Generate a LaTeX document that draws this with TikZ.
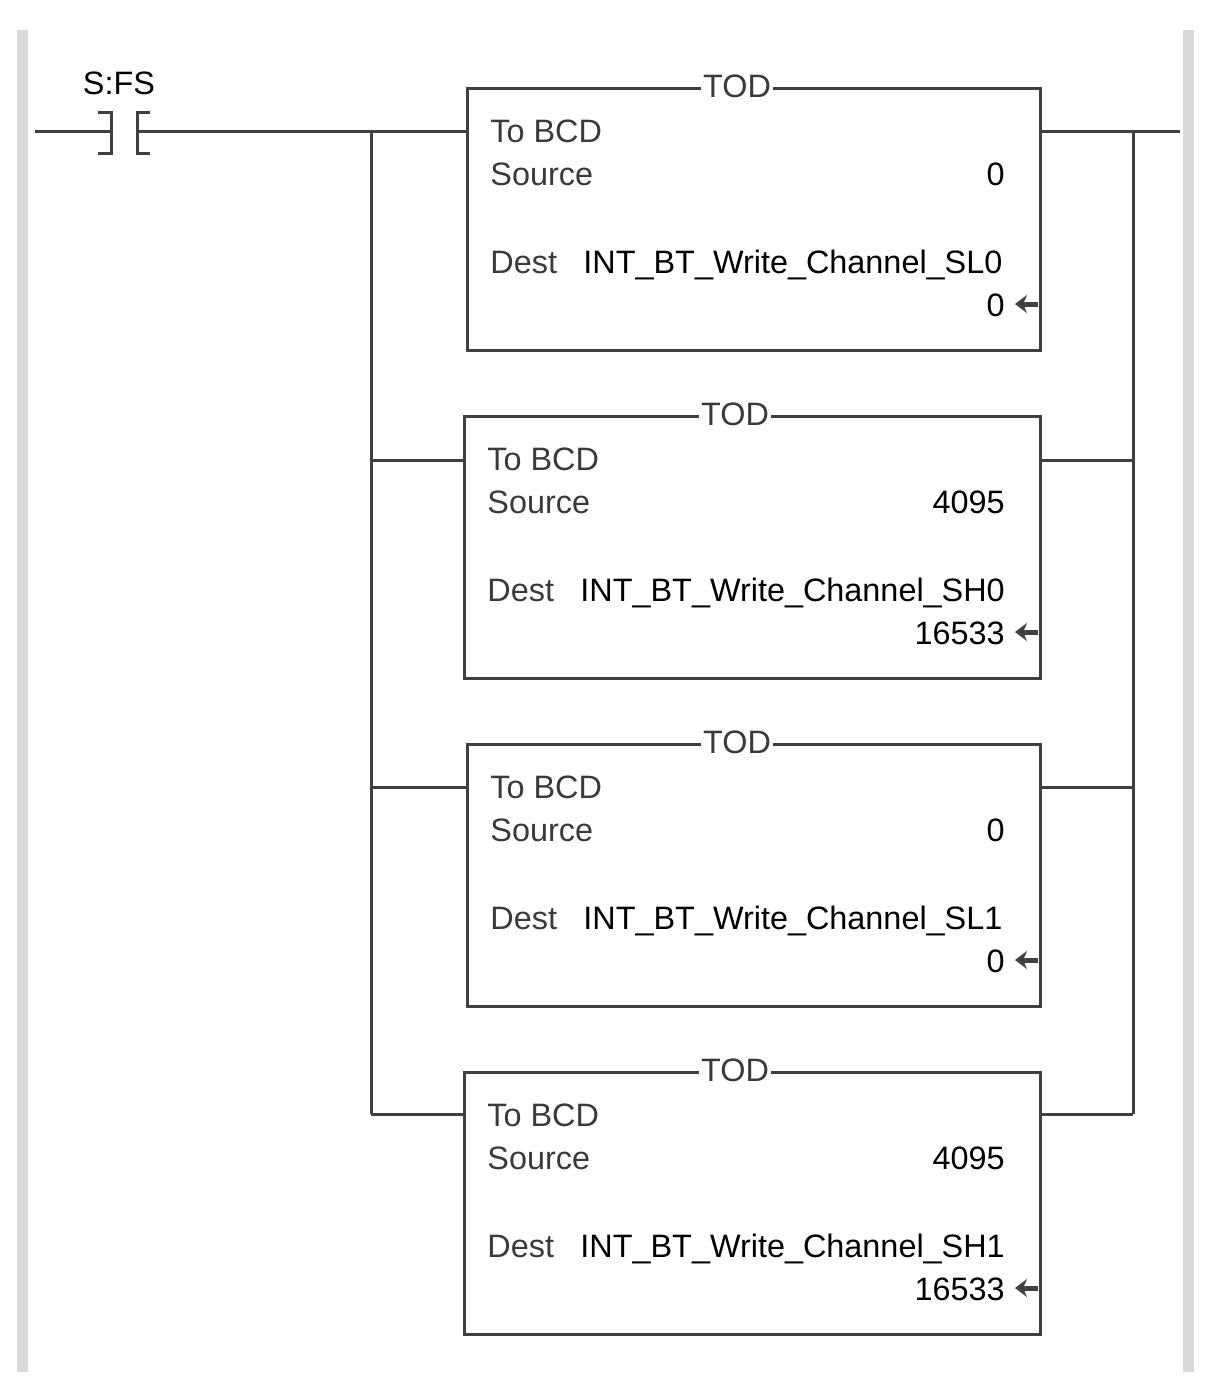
\documentclass[tikz,border=0pt]{standalone}
\usepackage{fontspec}
\setmainfont{Liberation Sans}
\usetikzlibrary{arrows.meta}
\definecolor{wirec}{HTML}{404040}
\definecolor{railc}{HTML}{D9D9D9}
\definecolor{labelc}{HTML}{3A3A3A}

\begin{document}
\begin{tikzpicture}[x=0.5pt,y=-0.5pt,
  wire/.style={draw=wirec,line width=1.5pt},
  rail/.style={draw=railc,line width=5.5pt},
  lbl/.style={anchor=base west,inner sep=0pt,text=labelc,font=\fontsize{16.2pt}{19pt}\selectfont},
  val/.style={anchor=base east,inner sep=0pt,text=black,font=\fontsize{16.2pt}{19pt}\selectfont},
  ttl/.style={anchor=base,fill=white,inner xsep=1pt,inner ysep=0pt,text=labelc,font=\fontsize{16.2pt}{19pt}\selectfont},
  ptr/.style={draw=wirec,line width=2.5pt,-{Stealth[length=6pt,width=9pt]},shorten >=5pt}]

\useasboundingbox (0,0) rectangle (1231,1383);

\coordinate (LT) at (22,30);
\coordinate (LB) at (22,1372);
\coordinate (RT) at (1188,30);
\coordinate (RB) at (1188,1372);
\draw[rail] (LT) -- (LB);
\draw[rail] (RT) -- (RB);

\coordinate (in) at (35,131);
\coordinate (ka) at (111,131);
\coordinate (kb) at (137,131);
\coordinate (out) at (1180,131);
\coordinate (L1) at (371,131);
\coordinate (L2) at (371,460);
\coordinate (L3) at (371,787);
\coordinate (L4) at (371,1114);
\coordinate (R1) at (1133,131);
\coordinate (R2) at (1133,460);
\coordinate (R3) at (1133,787);
\coordinate (R4) at (1133,1114);

\draw[wire] (98,112) -- (ka |- 0,112) -- (ka |- 0,153) -- (98,153);
\draw[wire] (150,112) -- (kb |- 0,112) -- (kb |- 0,153) -- (150,153);
\node[val,anchor=base] (sfs) at (119,94) {S:FS};
\draw[wire] (in) -- (ka);

\coordinate (B1) at (467,88);
\coordinate (B2) at (464,416);
\coordinate (B3) at (467,744);
\coordinate (B4) at (464,1072);
\coordinate (E1) at (1040,350);
\coordinate (E2) at (1040,678);
\coordinate (E3) at (1040,1006);
\coordinate (E4) at (1040,1334);

\draw[wire] (B1) rectangle (E1);
\draw[wire] (B2) rectangle (E2);
\draw[wire] (B3) rectangle (E3);
\draw[wire] (B4) rectangle (E4);

\draw[wire] (kb) -- (B1 |- L1);
\draw[wire] (L1) -- (L4);
\draw[wire] (L2) -- (B2 |- L2);
\draw[wire] (L3) -- (B3 |- L3);
\draw[wire] (L4) -- (B4 |- L4);
\draw[wire] (E1 |- R1) -- (out);
\draw[wire] (R1) -- (R4);
\draw[wire] (E2 |- R2) -- (R2);
\draw[wire] (E3 |- R3) -- (R3);
\draw[wire] (E4 |- R4) -- (R4);

\node[ttl] (t1) at (737,97) {TOD};
\node[lbl] (c1) at (490,142) {To BCD};
\node[lbl] (s1) at (490,185) {Source};
\node[val] (sv1) at (1005,185) {0};
\node[lbl] (d1) at (490,273) {Dest};
\node[val,anchor=base west] (n1) at (583,273) {INT\_BT\_Write\_Channel\_SL0};
\node[val] (v1) at (1005,316) {0};
\coordinate (a1) at (1038,304);
\draw[ptr] (a1) -- (v1.east |- a1);

\node[ttl] (t2) at (735,425) {TOD};
\node[lbl] (c2) at (487,470) {To BCD};
\node[lbl] (s2) at (487,513) {Source};
\node[val] (sv2) at (1005,513) {4095};
\node[lbl] (d2) at (487,601) {Dest};
\node[val,anchor=base west] (n2) at (580,601) {INT\_BT\_Write\_Channel\_SH0};
\node[val] (v2) at (1005,644) {16533};
\coordinate (a2) at (1038,632);
\draw[ptr] (a2) -- (v2.east |- a2);

\node[ttl] (t3) at (737,753) {TOD};
\node[lbl] (c3) at (490,798) {To BCD};
\node[lbl] (s3) at (490,841) {Source};
\node[val] (sv3) at (1005,841) {0};
\node[lbl] (d3) at (490,929) {Dest};
\node[val,anchor=base west] (n3) at (583,929) {INT\_BT\_Write\_Channel\_SL1};
\node[val] (v3) at (1005,972) {0};
\coordinate (a3) at (1038,960);
\draw[ptr] (a3) -- (v3.east |- a3);

\node[ttl] (t4) at (735,1081) {TOD};
\node[lbl] (c4) at (487,1126) {To BCD};
\node[lbl] (s4) at (487,1169) {Source};
\node[val] (sv4) at (1005,1169) {4095};
\node[lbl] (d4) at (487,1257) {Dest};
\node[val,anchor=base west] (n4) at (580,1257) {INT\_BT\_Write\_Channel\_SH1};
\node[val] (v4) at (1005,1300) {16533};
\coordinate (a4) at (1038,1288);
\draw[ptr] (a4) -- (v4.east |- a4);

\end{tikzpicture}
\end{document}
